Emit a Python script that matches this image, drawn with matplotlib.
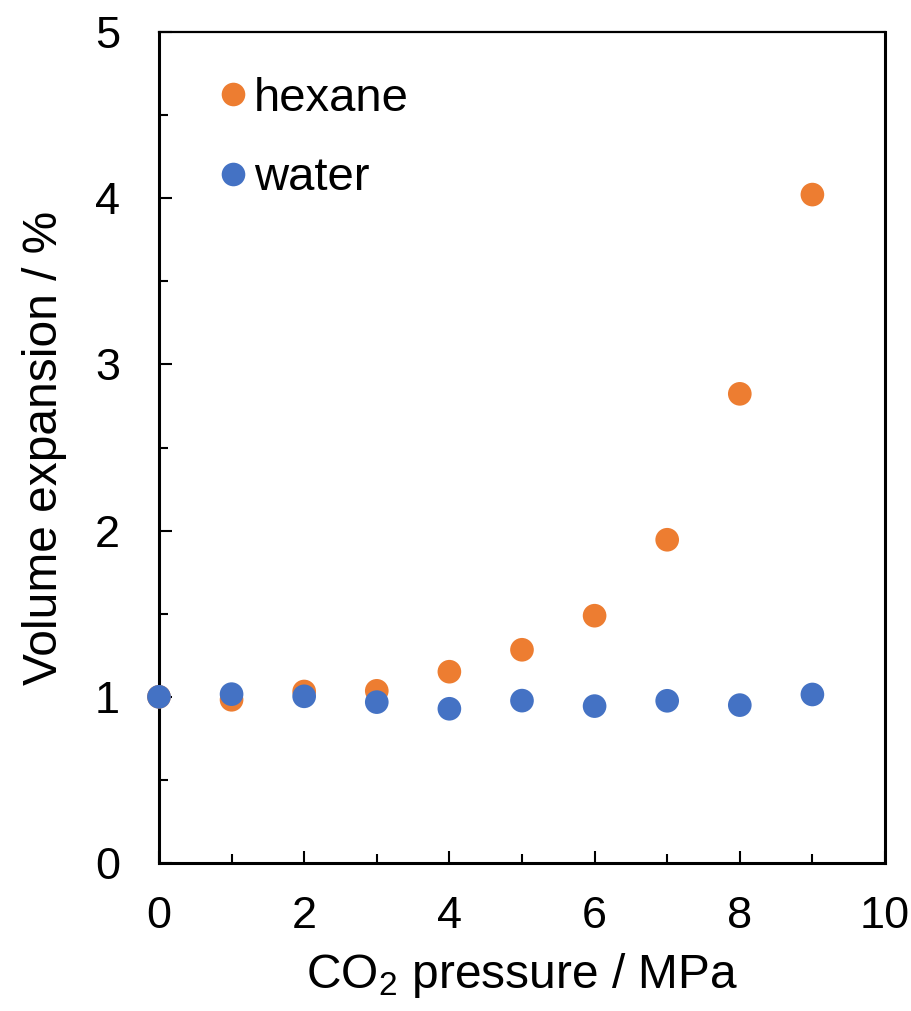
import matplotlib
matplotlib.use("Agg")
import matplotlib.pyplot as plt
from matplotlib.lines import Line2D
from matplotlib.ticker import MultipleLocator

plt.rcParams['font.family'] = ['Liberation Sans', 'DejaVu Sans']
plt.rcParams['mathtext.fontset'] = 'custom'
plt.rcParams['mathtext.rm'] = 'Liberation Sans'
plt.rcParams['mathtext.it'] = 'Liberation Sans:italic'

pressure = [0, 1, 2, 3, 4, 5, 6, 7, 8, 9]
hexane = [1.00, 0.982, 1.032, 1.036, 1.151, 1.283, 1.488, 1.945, 2.823, 4.022]
water = [1.00, 1.016, 1.003, 0.968, 0.928, 0.977, 0.944, 0.976, 0.950, 1.014]

orange = '#ED7D31'
blue = '#4472C4'

fig = plt.figure(figsize=(9.12, 10.11), dpi=100)
ax = fig.add_axes([0.1743, 0.1464, 0.7961, 0.8219])

ax.scatter(pressure, hexane, s=290, color=orange, edgecolors='none', zorder=3, clip_on=False)
ax.scatter(pressure, water, s=290, color=blue, edgecolors='none', zorder=4, clip_on=False)

ax.set_xlim(0, 10)
ax.set_ylim(0, 5)
ax.xaxis.set_major_locator(MultipleLocator(2))
ax.xaxis.set_minor_locator(MultipleLocator(1))
ax.yaxis.set_major_locator(MultipleLocator(1))
ax.yaxis.set_minor_locator(MultipleLocator(0.5))

ax.tick_params(which='both', direction='in', width=1.5, labelsize=32.5)
ax.tick_params(which='major', length=9)
ax.tick_params(which='minor', length=6.5)
ax.tick_params(axis='x', pad=24)
ax.tick_params(axis='y', pad=28)

for side in ['left', 'bottom', 'right']:
    ax.spines[side].set_linewidth(2.2)
ax.spines['top'].set_linewidth(1.6)

ax.set_xlabel(r'CO$_2$ pressure / MPa', fontsize=34.5, labelpad=10)
ax.set_ylabel('Volume expansion / %', fontsize=34.5, labelpad=20)

handles = [
    Line2D([], [], marker='o', linestyle='none', markersize=17, color=orange, markeredgewidth=0),
    Line2D([], [], marker='o', linestyle='none', markersize=17, color=blue, markeredgewidth=0),
]
ax.legend(handles, ['hexane', 'water'], loc='upper left', bbox_to_anchor=(0.056, 0.969),
          frameon=False, fontsize=34, handlelength=0.6, handletextpad=0.15,
          labelspacing=0.75, borderaxespad=0)

fig.savefig('out.png', dpi=100)
